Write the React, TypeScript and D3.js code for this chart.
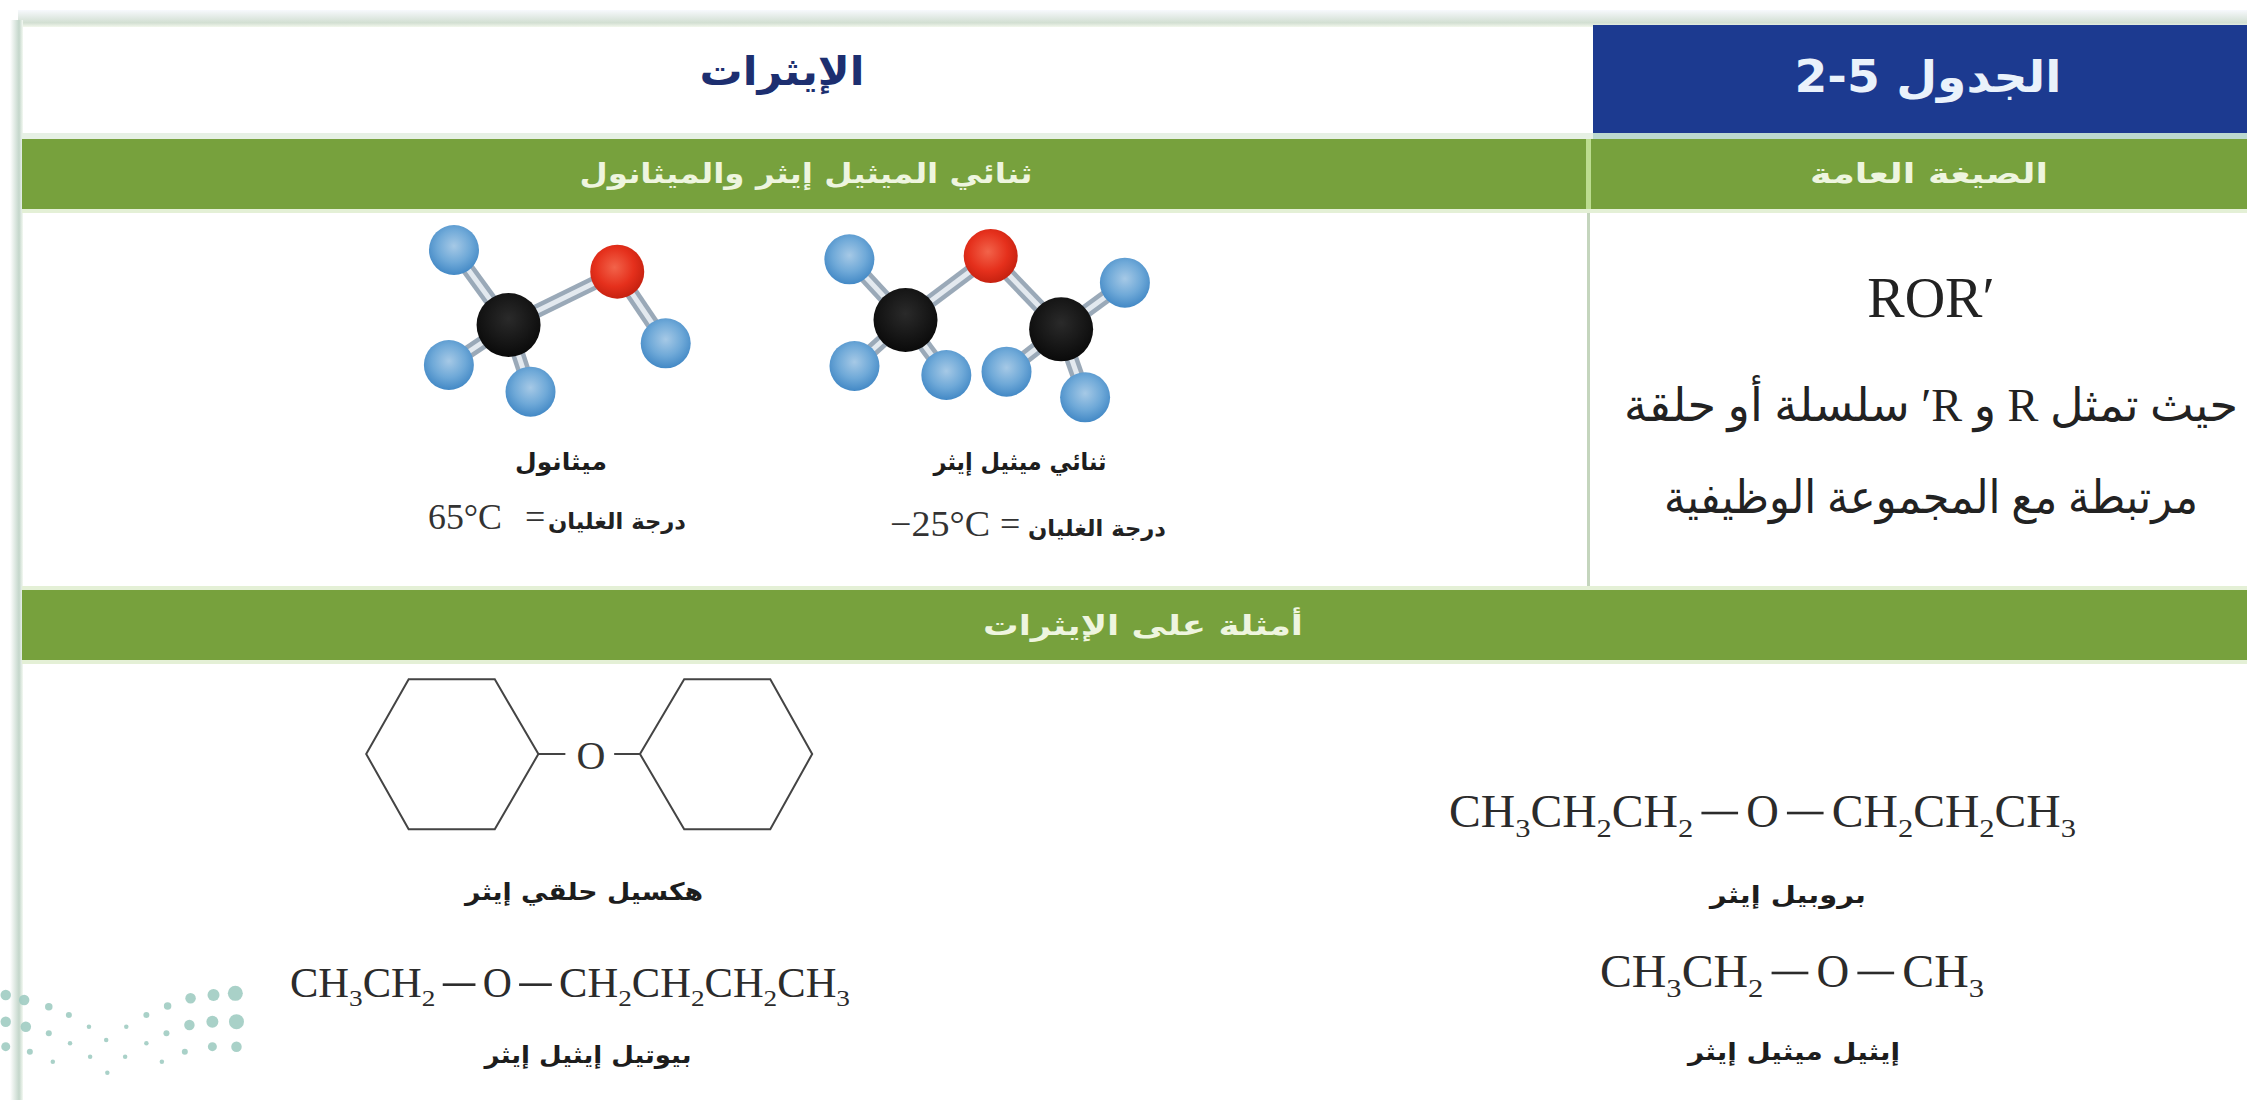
import React from "react";
import * as d3 from "d3";

const W = 2247, H = 1100;

// table text
const tableNo = "الجدول 5-2";
const tableTitle = "الإيثرات";
const headLeft = "ثنائي الميثيل إيثر والميثانول";
const headRight = "الصيغة العامة";
const examplesHead = "أمثلة على الإيثرات";
const generalFormula = "ROR′";
const noteLines = ["حيث تمثل R و R′ سلسلة أو حلقة", "مرتبطة مع المجموعة الوظيفية"];

// molecules, atoms as read off the crop [element, x, y]
const methanolAtoms: [string, number, number][] = [
  ["C", 252, 375], ["H", 145, 150], ["O", 465, 215], ["H", 560, 430], ["H", 135, 495], ["H", 295, 575],
];
const methanolBonds = [[0, 1], [0, 2], [2, 3], [0, 4], [0, 5]];
const etherAtoms: [string, number, number][] = [
  ["C", 1030, 360], ["C", 1335, 388], ["H", 920, 178], ["O", 1197, 168], ["H", 1460, 248],
  ["H", 930, 498], ["H", 1110, 525], ["H", 1228, 515], ["H", 1382, 592],
];
const etherBonds = [[0, 2], [0, 3], [3, 1], [1, 4], [0, 5], [0, 6], [1, 7], [1, 8]];
const atomRadius = d3.scaleOrdinal<string, number>().domain(["C", "O", "H"]).range([32, 27, 25]);
const atomFill = d3.scaleOrdinal<string, string>().domain(["C", "O", "H"]).range(["url(#gC)", "url(#gO)", "url(#gH)"]);

// cyclohexyl ether rings, crop readings
const ringLeft: [number, number][] = [[712, 88], [862, 88], [938, 312], [862, 538], [712, 538], [638, 312]];
const ringRight: [number, number][] = [[1192, 88], [1342, 88], [1415, 312], [1342, 538], [1192, 538], [1115, 312]];
const ringBonds: [number, number][][] = [[[938, 312], [985, 312]], [[1070, 312], [1115, 312]]];

const formulas = [
  { tokens: ["CH", "3", "CH", "2", "CH", "2", "-", "O", "-", "CH", "2", "CH", "2", "CH", "3"], x0: 1449, x1: 2076, y: 827 },
  { tokens: ["CH", "3", "CH", "2", "-", "O", "-", "CH", "3"], x0: 1600, x1: 1984, y: 987 },
  { tokens: ["CH", "3", "CH", "2", "-", "O", "-", "CH", "2", "CH", "2", "CH", "2", "CH", "3"], x0: 290, x1: 850, y: 997 },
];
// relative widths of the formula pieces
const tokenWidth = (t: string) => (t === "CH" ? 65 : t === "O" ? 32 : t === "-" ? 52 : 15);

const captions = [
  { text: "ميثانول", x: 561, y: 470, w: 92 },
  { text: "ثنائي ميثيل إيثر", x: 1020, y: 470, w: 173 },
  { text: "هكسيل حلقي إيثر", x: 584, y: 900, w: 238 },
  { text: "بيوتيل إيثيل إيثر", x: 588, y: 1063, w: 207 },
  { text: "بروبيل إيثر", x: 1788, y: 903, w: 156 },
  { text: "إيثيل ميثيل إيثر", x: 1794, y: 1060, w: 212 },
];
const boilLabel = "درجة الغليان";
const boiling = [
  { temp: "65°C", tx0: 428, tw: 74, eq: 525, ax: 686, aw: 138, y: 529 },
  { temp: "−25°C", tx0: 890, tw: 100, eq: 1000, ax: 1166, aw: 138, y: 536 },
];

// logo dots, crop readings [x, y, r]
const logoDots: [number, number, number][] = [
  [10, 1035, 7], [42, 1050, 7], [85, 1070, 5], [120, 1095, 4], [255, 1095, 4], [292, 1068, 5], [332, 1045, 7], [372, 1035, 8], [410, 1030, 10],
  [10, 1115, 7], [45, 1130, 7], [85, 1150, 4], [155, 1130, 3], [220, 1130, 3], [290, 1150, 4], [330, 1125, 7], [370, 1115, 8], [412, 1115, 10],
  [10, 1190, 6], [52, 1205, 4], [122, 1180, 3], [185, 1170, 3], [255, 1180, 3], [322, 1205, 4], [370, 1190, 6], [412, 1190, 7],
  [92, 1235, 3], [157, 1220, 3], [218, 1220, 3], [282, 1235, 3], [187, 1268, 3],
];

// crop reading -> page pixels
const molX = d3.scaleLinear().domain([0, 1568]).range([380, 1180]);
const molY = d3.scaleLinear().domain([0, 1200]).range([200, 600]);
const lowX = d3.scaleLinear().domain([0, 1568]).range([0, 900]);
const lowY = d3.scaleLinear().domain([0, 1350]).range([650, 1100]);
const ringLine = d3.line<[number, number]>().x(d => lowX(d[0])).y(d => lowY(d[1]));

const SERIF = "'Liberation Serif', 'DejaVu Serif', serif";
const ARABIC = "'DejaVu Sans', sans-serif";

function Formula({ tokens, x0, x1, y }: { tokens: string[]; x0: number; x1: number; y: number }) {
  const total = d3.sum(tokens, tokenWidth);
  const fx = d3.scaleLinear().domain([0, total]).range([x0, x1]);
  const k = (x1 - x0) / total;
  const size = 46 * k;
  let run = 0;
  return (
    <g fill="#2b2b2b">
      {tokens.map((t, i) => {
        const start = run;
        run += tokenWidth(t);
        if (t === "-") {
          return <rect key={i} x={fx(start + 8)} y={y - 15 * k} width={fx(start + 44) - fx(start + 8)} height={2.6} />;
        }
        const isSub = /\d/.test(t);
        return (
          <text key={i} x={fx(start)} y={isSub ? y + 10 * k : y} fontFamily={SERIF} fontSize={isSub ? 25 * k : size}
            textLength={fx(start + tokenWidth(t)) - fx(start)} lengthAdjust="spacingAndGlyphs">{t}</text>
        );
      })}
    </g>
  );
}

function Label({ text, x, y, w, size = 24, fill = "#1d1d1d" }: { text: string; x: number; y: number; w: number; size?: number; fill?: string }) {
  return (
    <text x={x} y={y} textAnchor="middle" direction="rtl" fontFamily={ARABIC} fontWeight={700} fontSize={size} fill={fill}
      textLength={w} lengthAdjust="spacingAndGlyphs">{text}</text>
  );
}

function Molecule({ atoms, bonds }: { atoms: [string, number, number][]; bonds: number[][] }) {
  return (
    <g>
      {bonds.map(([a, b], i) => {
        const p = [molX(atoms[a][1]), molY(atoms[a][2]), molX(atoms[b][1]), molY(atoms[b][2])];
        return (
          <g key={i}>
            <line x1={p[0]} y1={p[1]} x2={p[2]} y2={p[3]} stroke="#9aa9b8" strokeWidth={14} />
            <line x1={p[0]} y1={p[1]} x2={p[2]} y2={p[3]} stroke="#e3e9ef" strokeWidth={5} />
          </g>
        );
      })}
      {atoms.map(([el, x, y], i) => (
        <circle key={i} cx={molX(x)} cy={molY(y)} r={atomRadius(el)} fill={atomFill(el)} />
      ))}
    </g>
  );
}

export default function App() {
  return (
    <svg width={W} height={H} viewBox={`0 0 ${W} ${H}`} style={{ position: "absolute", left: 0, top: 0, background: "#fff" }}>
      <defs>
        <radialGradient id="gH" cx="0.5" cy="0.42" r="0.6">
          <stop offset="0" stopColor="#a6c9e6" />
          <stop offset="0.55" stopColor="#6fa9d8" />
          <stop offset="1" stopColor="#3f86c4" />
        </radialGradient>
        <radialGradient id="gO" cx="0.45" cy="0.42" r="0.6">
          <stop offset="0" stopColor="#f2634a" />
          <stop offset="0.6" stopColor="#e5301c" />
          <stop offset="1" stopColor="#c4200f" />
        </radialGradient>
        <radialGradient id="gC" cx="0.5" cy="0.4" r="0.6">
          <stop offset="0" stopColor="#2a2a2a" />
          <stop offset="1" stopColor="#0a0a0a" />
        </radialGradient>
        <linearGradient id="edgeL" x1="0" x2="1" y1="0" y2="0">
          <stop offset="0" stopColor="#fff" />
          <stop offset="0.7" stopColor="#c3d6ca" />
          <stop offset="1" stopColor="#f4f9f2" />
        </linearGradient>
        <linearGradient id="edgeT" x1="0" x2="0" y1="0" y2="1">
          <stop offset="0" stopColor="#f7f9fd" />
          <stop offset="0.75" stopColor="#d2dfd2" />
          <stop offset="1" stopColor="#f2f7ec" />
        </linearGradient>
      </defs>

      {/* frame */}
      <rect x={18} y={10} width={W - 18} height={17} fill="url(#edgeT)" />
      <rect x={10} y={20} width={13} height={H - 20} fill="url(#edgeL)" />

      {/* header cells */}
      <rect x={1593} y={25} width={W - 1593} height={108} fill="#1c3a90" />
      <rect x={22} y={133} width={1571} height={6} fill="#e6f0e4" />
      <rect x={1593} y={133} width={W - 1593} height={6} fill="#bcd9cf" />
      <rect x={22} y={139} width={W - 22} height={70} fill="#77a13d" />
      <rect x={22} y={209} width={W - 22} height={4} fill="#e4f0d6" />
      <rect x={22} y={586} width={W - 22} height={4} fill="#e4f0d6" />
      <rect x={22} y={590} width={W - 22} height={70} fill="#77a13d" />
      <rect x={22} y={660} width={W - 22} height={4} fill="#e4f0d6" />
      <rect x={1586} y={139} width={5} height={70} fill="#bcdc90" />
      <rect x={1587} y={213} width={3} height={373} fill="#c4d5bd" />

      <Label text={tableTitle} x={782} y={85} w={165} size={40} fill="#1d2f70" />
      <Label text={tableNo} x={1928} y={92} w={267} size={44} fill="#eaf2fb" />
      <Label text={headLeft} x={806} y={183} w={453} size={28} fill="#eef5df" />
      <Label text={headRight} x={1929} y={183} w={238} size={28} fill="#eef5df" />
      <Label text={examplesHead} x={1143} y={635} w={320} size={28} fill="#eef5df" />

      {/* general formula */}
      <text x={1931} y={317} textAnchor="middle" fontFamily={SERIF} fontSize={56} fill="#222">{generalFormula}</text>
      {noteLines.map((line, i) => (
        <text key={i} x={1931} y={i === 0 ? 421 : 513} textAnchor="middle" direction="rtl"
          fontFamily={`'Liberation Serif', 'DejaVu Sans', serif`} fontSize={46} fill="#222"
          textLength={i === 0 ? 614 : 534} lengthAdjust="spacingAndGlyphs">{line}</text>
      ))}

      {/* molecules */}
      <Molecule atoms={methanolAtoms} bonds={methanolBonds} />
      <Molecule atoms={etherAtoms} bonds={etherBonds} />

      {boiling.map((b, i) => (
        <g key={i}>
          <text x={b.tx0} y={b.y} fontFamily={SERIF} fontSize={35} fill="#333" textLength={b.tw} lengthAdjust="spacingAndGlyphs">{b.temp}</text>
          <text x={b.eq} y={b.y} fontFamily={SERIF} fontSize={36} fill="#333">=</text>
          <text x={b.ax} y={b.y} textAnchor="end" direction="ltr" fontFamily={ARABIC} fontWeight={700} fontSize={22} fill="#222"
            textLength={b.aw} lengthAdjust="spacingAndGlyphs">{boilLabel}</text>
        </g>
      ))}

      {/* ring structure */}
      <g fill="none" stroke="#444" strokeWidth={2}>
        <path d={ringLine(ringLeft) + "Z"} />
        <path d={ringLine(ringRight) + "Z"} />
        {ringBonds.map((b, i) => <path key={i} d={ringLine(b) || ""} />)}
      </g>
      <text x={591} y={769} textAnchor="middle" fontFamily={SERIF} fontSize={40} fill="#333">O</text>

      {formulas.map((f, i) => <Formula key={i} {...f} />)}
      {captions.map((c, i) => <Label key={i} {...c} />)}

      {/* logo */}
      <g fill="#a0ccc2">
        {logoDots.map(([x, y, r], i) => (
          <circle key={i} cx={lowX(x)} cy={lowY(y)} r={r * 0.75} opacity={0.9} />
        ))}
      </g>
    </svg>
  );
}
